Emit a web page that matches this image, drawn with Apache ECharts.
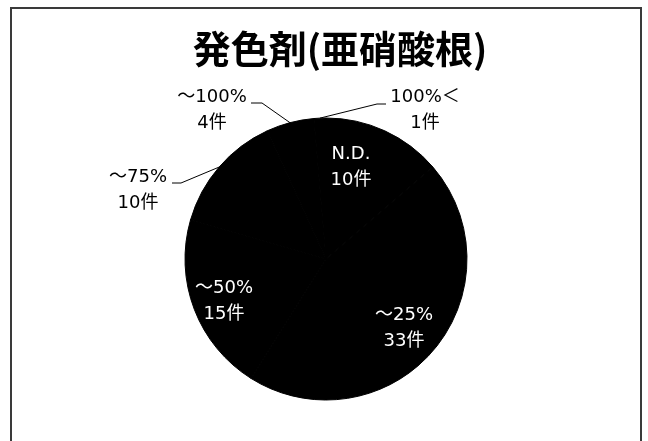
<!DOCTYPE html>
<html>
<head>
<meta charset="utf-8">
<script src="https://cdn.jsdelivr.net/npm/echarts@6/dist/echarts.min.js"></script>
<style>
  html, body { margin: 0; padding: 0; background: #fff; }
  #chart { width: 648px; height: 441px; }
</style>
</head>
<body>
<div id="chart"></div>
<script>
// 発色剤(亜硝酸根) — 検出濃度区分ごとの件数
const categories = ['N.D.', '～25%', '～50%', '～75%', '～100%', '100%＜'];
const counts = [10, 33, 15, 10, 4, 1];
const titleText = '発色剤(亜硝酸根)';

// pie geometry
const CENTER = [326, 259];
const RADIUS = 141;

// label placement: centre of each label block, plus leader line elbow/end for outside labels
const labelPlace = [
  { x: 351, y: 167, inside: true },
  { x: 404, y: 328, inside: true },
  { x: 224, y: 301, inside: true },
  { x: 138, y: 190, inside: false, elbow: [181, 183], end: [172, 183] },
  { x: 212, y: 110, inside: false, elbow: [262, 103], end: [251, 103] },
  { x: 425, y: 110, inside: false, elbow: [377, 104], end: [386, 104] }
];

const FONT = '"DejaVu Sans", "Noto Sans CJK JP", sans-serif';
const TITLE_FONT = '"Noto Sans CJK JP", "Noto Sans", sans-serif';

// point on the rim at the middle angle of slice i (pie starts at 12 o'clock, clockwise)
const total = counts.reduce((a, b) => a + b, 0);
function rimMidPoint(i) {
  let before = 0;
  for (let k = 0; k < i; k++) before += counts[k];
  const a = (before + counts[i] / 2) / total * 2 * Math.PI;
  return [CENTER[0] + RADIUS * Math.sin(a), CENTER[1] - RADIUS * Math.cos(a)];
}

const seriesData = categories.map((name, i) => {
  const p = labelPlace[i];
  return {
    name: name,
    value: counts[i],
    label: {
      position: p.inside ? 'inside' : 'outside',
      color: p.inside ? '#ffffff' : '#000000'
    },
    labelLine: { show: !p.inside }
  };
});

const chart = echarts.init(document.getElementById('chart'), null, { renderer: 'canvas' });

chart.setOption({
  backgroundColor: '#ffffff',
  animation: false,
  graphic: [
    {
      type: 'rect',
      shape: { x: 11, y: 8, width: 630, height: 460 },
      style: { fill: 'none', stroke: '#3a3a3a', lineWidth: 2 },
      silent: true
    },
    {
      type: 'text',
      x: 340,
      y: 49,
      style: {
        text: titleText,
        font: 'bold 38px ' + TITLE_FONT,
        fill: '#000000',
        textAlign: 'center',
        textVerticalAlign: 'middle'
      },
      silent: true
    }
  ],
  series: [
    {
      type: 'pie',
      center: CENTER,
      radius: RADIUS,
      startAngle: 90,
      clockwise: true,
      avoidLabelOverlap: false,
      color: ['#000000'],
      itemStyle: { color: '#000000', borderColor: '#000000', borderWidth: 1 },
      emphasis: { disabled: true },
      label: {
        show: true,
        formatter: '{b}\n{c}件',
        fontFamily: FONT,
        fontSize: 18,
        lineHeight: 26,
        align: 'center'
      },
      labelLine: {
        show: true,
        smooth: false,
        length: 10,
        length2: 10,
        lineStyle: { color: '#000000', width: 1 }
      },
      labelLayout: function (params) {
        const i = params.dataIndex;
        const p = labelPlace[i];
        const out = { x: p.x, y: p.y, align: 'center', verticalAlign: 'middle' };
        if (!p.inside) {
          out.labelLinePoints = [rimMidPoint(i), p.elbow, p.end];
        }
        return out;
      },
      data: seriesData
    }
  ]
});
</script>
</body>
</html>
